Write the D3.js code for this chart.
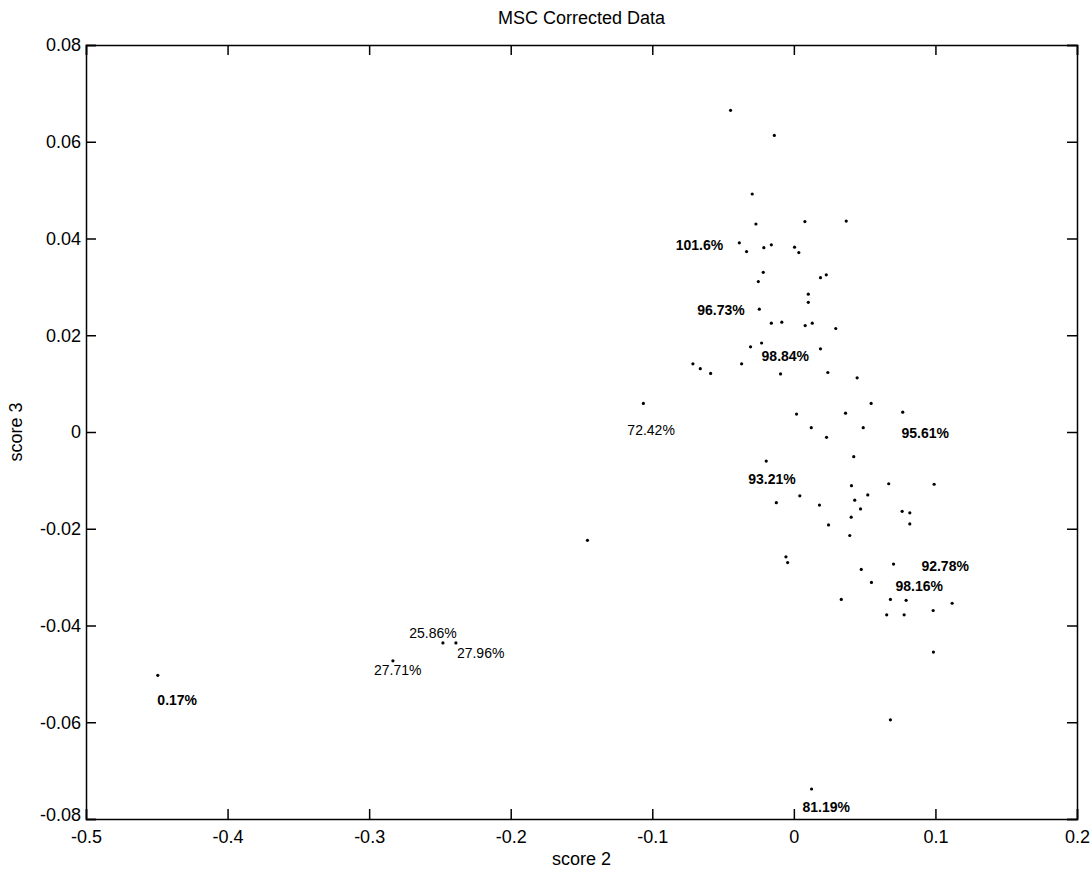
<!DOCTYPE html>
<html>
<head>
<meta charset="utf-8">
<script src="https://cdn.jsdelivr.net/npm/d3@7"></script>
<style>
  body { margin: 0; background: #fff; }
  text { font-family: "Liberation Sans", Arial, sans-serif; fill: #000; }
</style>
</head>
<body>
<div id="myChart"></div>
<script>
let width = 1092
let height = 869

// score 2 / score 3 of each sample
const score2 = [
  -0.0447, -0.0138, -0.0294, -0.0268, 0.0078, 0.0370, -0.0385, -0.0334, -0.0212, -0.0159,
  0.0005, 0.0035, -0.0216, -0.0251, 0.0188, 0.0229, 0.0102, 0.0102, -0.0244, -0.0159,
  -0.0085, 0.0080, 0.0130, 0.0296, -0.0306, -0.0228, 0.0188, -0.0713, -0.0661, -0.0588,
  -0.0369, -0.0094, 0.0240, -0.1063, 0.0019, 0.0365, 0.0123, 0.0231, 0.0447, 0.0546,
  0.0769, 0.0490, -0.0195, 0.0042, -0.0124, 0.0181, 0.0245, -0.0056, -0.0044, 0.0335,
  0.0423, 0.0407, 0.0670, 0.0991, 0.0522, 0.0430, 0.0471, 0.0765, 0.0819, 0.0819,
  0.0405, 0.0395, 0.0704, 0.0476, 0.0548, 0.0682, 0.0793, 0.1118, 0.0656, 0.0779,
  0.0984, 0.0986, 0.0682, -0.1458, -0.4493, -0.2479, -0.2387, -0.2832, 0.0125
]
const score3 = [
  0.0665, 0.0613, 0.0492, 0.0430, 0.0435, 0.0436, 0.0391, 0.0373, 0.0381, 0.0387,
  0.0382, 0.0371, 0.0330, 0.0311, 0.0319, 0.0325, 0.0285, 0.0268, 0.0254, 0.0225,
  0.0227, 0.0220, 0.0225, 0.0214, 0.0176, 0.0184, 0.0172, 0.0141, 0.0131, 0.0121,
  0.0141, 0.0120, 0.0123, 0.0059, 0.0037, 0.0039, 0.0009, -0.0011, 0.0112, 0.0059,
  0.0041, 0.0009, -0.0060, -0.0132, -0.0146, -0.0151, -0.0192, -0.0258, -0.0270, -0.0346,
  -0.0051, -0.0111, -0.0107, -0.0108, -0.0130, -0.0141, -0.0159, -0.0164, -0.0167, -0.0190,
  -0.0176, -0.0214, -0.0273, -0.0284, -0.0311, -0.0346, -0.0348, -0.0354, -0.0378, -0.0378,
  -0.0369, -0.0455, -0.0595, -0.0224, -0.0503, -0.0436, -0.0436, -0.0473, -0.0738
]

// text annotations (anchor at left / middle)
const labelText = ["101.6%", "96.73%", "98.84%", "72.42%", "95.61%", "93.21%", "92.78%",
  "98.16%", "25.86%", "27.96%", "27.71%", "0.17%", "81.19%"]
const labelX = [-0.0835, -0.0682, -0.0228, -0.1176, 0.0760, -0.0322, 0.0901,
  0.0718, -0.2717, -0.2380, -0.2966, -0.4496, 0.0061]
const labelY = [0.0387, 0.0252, 0.0157, 0.0004, -0.0003, -0.0098, -0.0278,
  -0.0318, -0.0416, -0.0457, -0.0492, -0.0555, -0.0775]
const thinLabels = new Set(["72.42%", "25.86%", "27.96%", "27.71%"])

const xTicks = [-0.5, -0.4, -0.3, -0.2, -0.1, 0, 0.1, 0.2]
const yTicks = [-0.08, -0.06, -0.04, -0.02, 0, 0.02, 0.04, 0.06, 0.08]

const margin = {top: 45, right: 15, bottom: 50, left: 86}

let svg = d3.select("#myChart")
  .append("svg")
  .attr("width", width)
  .attr("height", height)

let x = d3.scaleLinear().domain([-0.5, 0.2]).range([margin.left, width - margin.right])
let y = d3.scaleLinear().domain([-0.08, 0.08]).range([height - margin.bottom, margin.top])

// plain hyphen like MATLAB, not the unicode minus
const fmt = d => String(+d.toFixed(2))

// axes, MATLAB style: ticks inside on all four sides
svg.append("g")
  .attr("transform", `translate(0,${y(-0.08)})`)
  .call(d3.axisBottom(x).tickValues(xTicks).tickSize(-10).tickPadding(11).tickFormat(fmt))
svg.append("g")
  .attr("transform", `translate(0,${y(0.08)})`)
  .call(d3.axisTop(x).tickValues(xTicks).tickSize(-10).tickFormat(""))
svg.append("g")
  .attr("transform", `translate(${x(-0.5)},0)`)
  .call(d3.axisLeft(y).tickValues(yTicks).tickSize(-10).tickPadding(5).tickFormat(fmt))
svg.append("g")
  .attr("transform", `translate(${x(0.2)},0)`)
  .call(d3.axisRight(y).tickValues(yTicks).tickSize(-10).tickFormat(""))

svg.selectAll(".domain").attr("stroke", "#000").attr("stroke-width", 1.5)
svg.selectAll(".tick line").attr("stroke", "#000").attr("stroke-width", 1.5)
svg.selectAll(".tick text")
  .style("font-size", "18px")
  .style("font-family", "'Liberation Sans', Arial, sans-serif")
  .attr("fill", "#000")

// -0.08 sits a little higher so it clears -0.5 below it
svg.selectAll(".tick text").filter(d => d === -0.08).attr("dy", "0.1em")

// points
svg.append("g")
  .selectAll("circle")
  .data(d3.range(score2.length))
  .enter().append("circle")
  .attr("cx", i => x(score2[i]))
  .attr("cy", i => y(score3[i]))
  .attr("r", 1.6)
  .attr("fill", "#000")

// annotations
svg.append("g")
  .selectAll("text")
  .data(d3.range(labelText.length))
  .enter().append("text")
  .attr("x", i => x(labelX[i]))
  .attr("y", i => y(labelY[i]))
  .attr("dy", "0.35em")
  .style("font-size", "14px")
  .style("font-weight", i => thinLabels.has(labelText[i]) ? "normal" : "bold")
  .text(i => labelText[i])

// title and axis labels
svg.append("text")
  .attr("x", (x(-0.5) + x(0.2)) / 2)
  .attr("y", 24)
  .attr("text-anchor", "middle")
  .style("font-size", "18px")
  .text("MSC Corrected Data")

svg.append("text")
  .attr("x", (x(-0.5) + x(0.2)) / 2)
  .attr("y", 865)
  .attr("text-anchor", "middle")
  .style("font-size", "18px")
  .text("score 2")

svg.append("text")
  .attr("transform", `translate(22,${y(0)}) rotate(-90)`)
  .attr("text-anchor", "middle")
  .style("font-size", "18px")
  .text("score 3")
</script>
</body>
</html>
